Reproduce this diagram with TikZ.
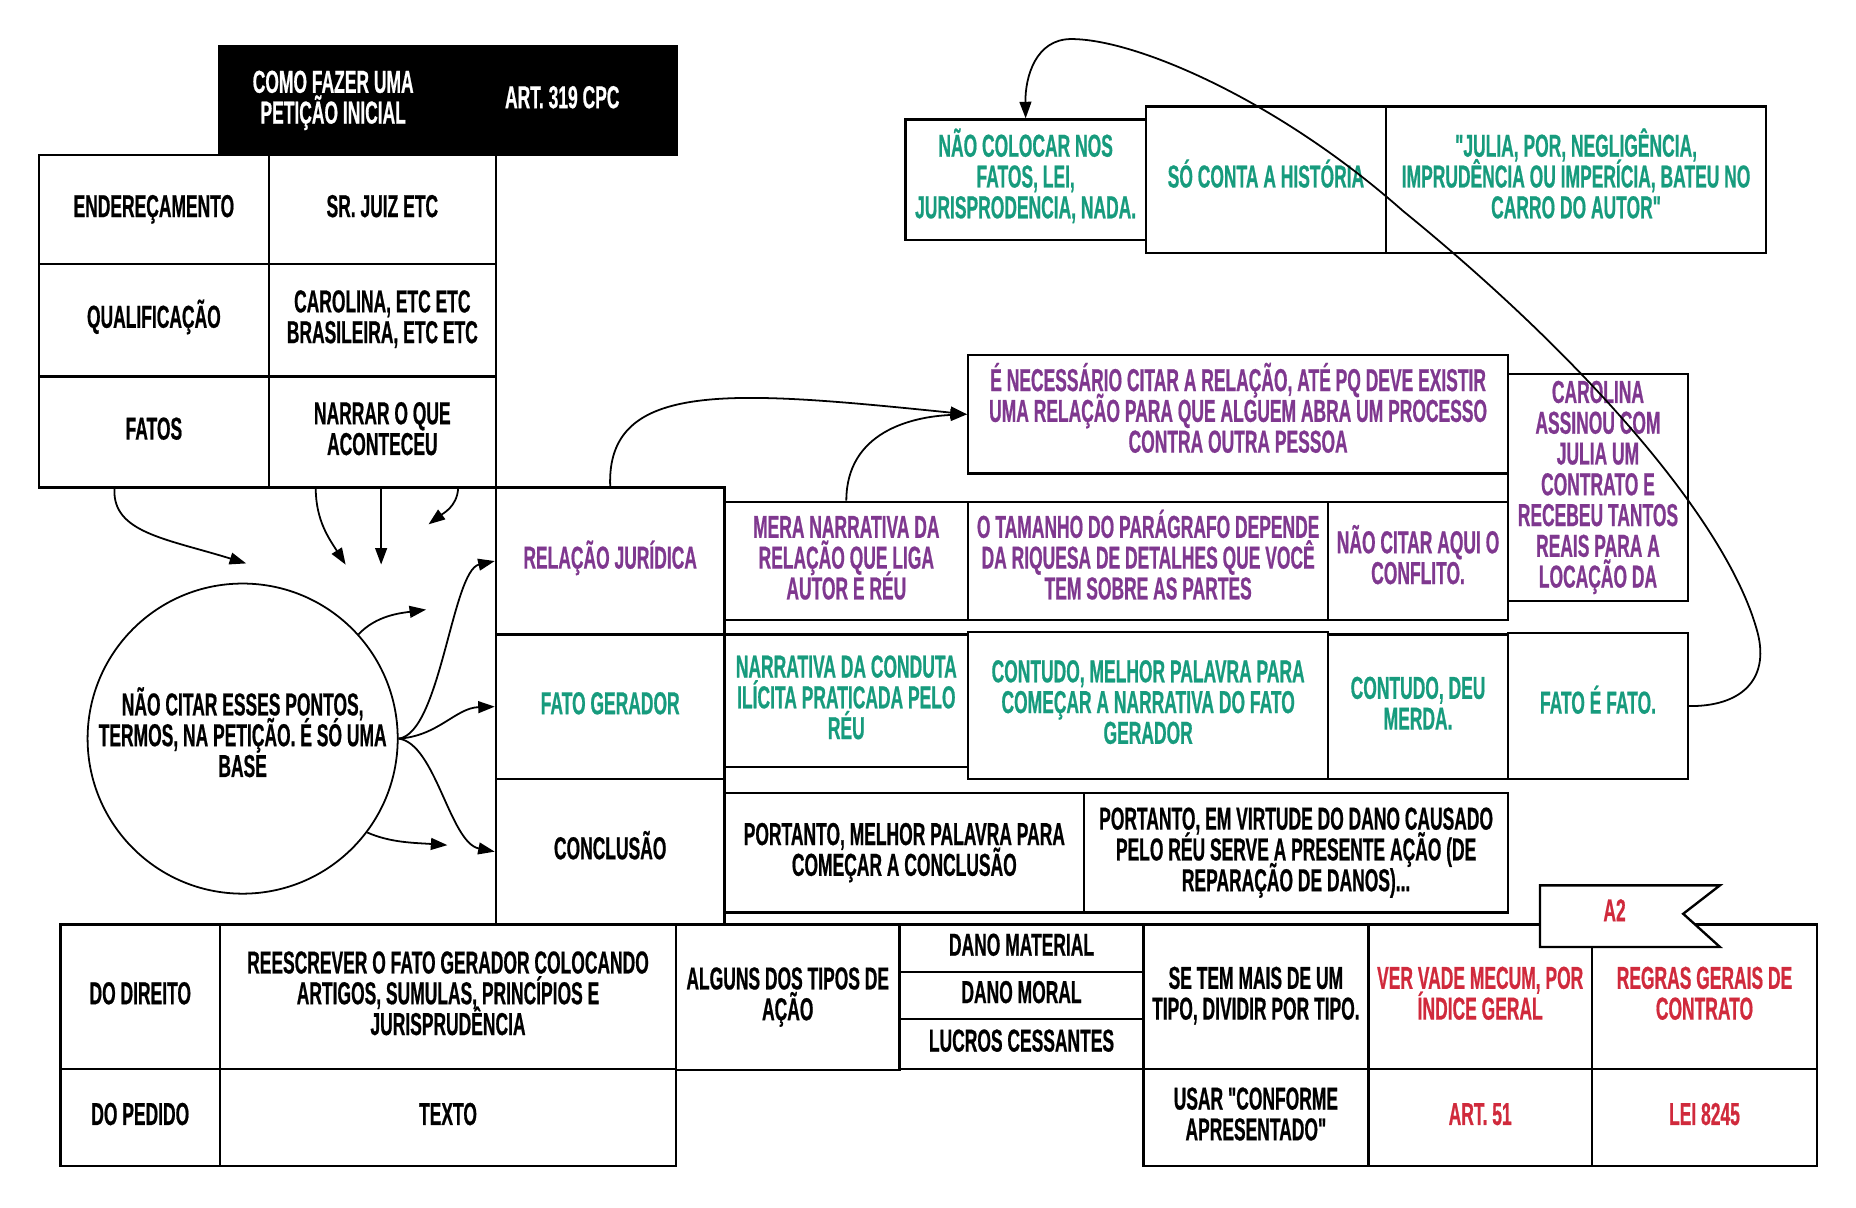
\documentclass[tikz,border=0pt]{standalone}
\usepackage{fontspec}
\newfontfamily\bebas{Liberation Sans}[FakeStretch=0.55,FakeBold=0.6]
\usetikzlibrary{fit,calc,arrows.meta}
\definecolor{purp}{HTML}{7F388F}
\definecolor{tealc}{HTML}{179B7D}
\definecolor{redc}{HTML}{D02A3C}
\setlength{\lineskiplimit}{-100pt}
\setlength{\lineskip}{0pt}
% \mycell[style]{name}{corner}{corner}{number of lines}{text}
\newcommand\mycell[6][]{\pgfmathsetlengthmacro\mytexth{6.4pt+13pt*(#5-1)}%
  \node[cellbox,#1,fit={(#3) (#4)}] (#2) {};
  \node[#1, text height=\mytexth, text depth=0pt, inner sep=0pt] (#2-t) at (#2.center) {#6};}
\begin{document}
\begin{tikzpicture}[x=0.5pt,y=-0.5pt,
  every node/.style={font=\bebas\bfseries\fontsize{13.4}{13}\selectfont, align=center},
  cellbox/.style={draw=black, line width=1pt, inner sep=0pt},
  pu/.style={text=purp}, te/.style={text=tealc}, re/.style={text=redc},
  arr/.style={-{Triangle[length=7pt,width=5pt]}, line width=0.75pt}]
\useasboundingbox (0,0) rectangle (1568,1020);
% header
\mycell[fill=black,text=white]{hd1}{185,39}{378,131}{2}{COMO FAZER UMA\\PETIÇÃO INICIAL}
\mycell[fill=black,text=white]{hd2}{378,39}{572,131}{1}{ART. 319 CPC}
% left table
\mycell{ender}{33,131}{227,223}{1}{ENDEREÇAMENTO}
\mycell{sr}{227,131}{419,223}{1}{SR. JUIZ ETC}
\mycell{qual}{33,223}{227,318}{1}{QUALIFICAÇÃO}
\mycell{carola}{227,223}{419,318}{2}{CAROLINA, ETC ETC\\BRASILEIRA, ETC ETC}
\mycell{fat}{33,318}{227,412}{1}{FATOS}
\mycell{narr}{227,318}{419,412}{2}{NARRAR O QUE\\ACONTECEU}
% middle column
\mycell[pu]{rel}{419,412}{612,536}{1}{RELAÇÃO JURÍDICA}
\mycell[te]{fg}{419,536}{612,658}{1}{FATO GERADOR}
\mycell{conc}{419,658}{612,781}{1}{CONCLUSÃO}
% row 1
\mycell[pu]{nec}{818,300}{1274,400}{3}{É NECESSÁRIO CITAR A RELAÇÃO, ATÉ PQ DEVE EXISTIR\\UMA RELAÇÃO PARA QUE ALGUEM ABRA UM PROCESSO\\CONTRA OUTRA PESSOA}
\mycell[pu]{mera}{612,424}{818,524}{3}{MERA NARRATIVA DA\\RELAÇÃO QUE LIGA\\AUTOR E RÉU}
\mycell[pu]{tam}{818,424}{1122,524}{3}{O TAMANHO DO PARÁGRAFO DEPENDE\\DA RIQUESA DE DETALHES QUE VOCÊ\\TEM SOBRE AS PARTES}
\mycell[pu]{naocit}{1122,424}{1274,524}{2}{NÃO CITAR AQUI O\\CONFLITO.}
\mycell[pu]{carol}{1274,316}{1426,508}{7}{CAROLINA\\ASSINOU COM\\JULIA UM\\CONTRATO E\\RECEBEU TANTOS\\REAIS PARA A\\LOCAÇÃO DA}
% row 2
\mycell[te]{narr2}{612,536}{818,648}{3}{NARRATIVA DA CONDUTA\\ILÍCITA PRATICADA PELO\\RÉU}
\mycell[te]{cont}{818,534}{1122,658}{3}{CONTUDO, MELHOR PALAVRA PARA\\COMEÇAR A NARRATIVA DO FATO\\GERADOR}
\mycell[te]{deu}{1122,536}{1274,658}{2}{CONTUDO, DEU\\MERDA.}
\mycell[te]{fatofato}{1274,535}{1426,658}{1}{FATO É FATO.}
% row 3
\mycell{port1}{612,670}{916,771}{2}{PORTANTO, MELHOR PALAVRA PARA\\COMEÇAR A CONCLUSÃO}
\mycell{port2}{916,670}{1274,771}{3}{PORTANTO, EM VIRTUDE DO DANO CAUSADO\\PELO RÉU SERVE A PRESENTE AÇÃO (DE\\REPARAÇÃO DE DANOS)...}
% top right
\mycell[te]{nao}{765,101}{968,203}{3}{NÃO COLOCAR NOS\\FATOS, LEI,\\JURISPRODENCIA, NADA.}
\mycell[te]{so}{968,90}{1171,214}{1}{SÓ CONTA A HISTÓRIA}
\mycell[te]{julia}{1171,90}{1492,214}{3}{"JULIA, POR, NEGLIGÊNCIA,\\IMPRUDÊNCIA OU IMPERÍCIA, BATEU NO\\CARRO DO AUTOR"}
% bottom table
\mycell{dir}{51,781}{186,903}{1}{DO DIREITO}
\mycell{rees}{186,781}{571,903}{3}{REESCREVER O FATO GERADOR COLOCANDO\\ARTIGOS, SUMULAS, PRINCÍPIOS E\\JURISPRUDÊNCIA}
\mycell{ped}{51,903}{186,985}{1}{DO PEDIDO}
\mycell{texto}{186,903}{571,985}{1}{TEXTO}
\mycell{alg}{571,781}{760,904}{2}{ALGUNS DOS TIPOS DE\\AÇÃO}
\mycell{dm}{760,781}{966,821}{1}{DANO MATERIAL}
\mycell{dmo}{760,821}{966,861}{1}{DANO MORAL}
\mycell{lc}{760,861}{966,903}{1}{LUCROS CESSANTES}
\mycell{se}{966,781}{1156,903}{2}{SE TEM MAIS DE UM\\TIPO, DIVIDIR POR TIPO.}
\mycell[re]{ver}{1156,781}{1345,903}{2}{VER VADE MECUM, POR\\ÍNDICE GERAL}
\mycell[re]{reg}{1345,781}{1535,903}{2}{REGRAS GERAIS DE\\CONTRATO}
\mycell{usar}{966,903}{1156,985}{2}{USAR "CONFORME\\APRESENTADO"}
\mycell[re]{art}{1156,903}{1345,985}{1}{ART. 51}
\mycell[re]{lei}{1345,903}{1535,985}{1}{LEI 8245}
% flag
\draw[fill=white, line width=1pt] (1301,748) -- (1453,748) -- (1422,772) -- (1453,800) -- (1301,800) -- cycle;
\node[re, text height=6.4pt, text depth=0pt, inner sep=0pt] (a2) at (1364,772) {A2};
% circle
\node[draw, circle, line width=0.75pt, minimum size=131pt, inner sep=0pt] (circ) at (205,624) {};
\node[text height=32.4pt, text depth=0pt, inner sep=0pt] (circtext) at (circ.center) {NÃO CITAR ESSES PONTOS,\\TERMOS, NA PETIÇÃO. É SÓ UMA\\BASE};
% free arrow ends
\coordinate (e1) at (208,476);
\coordinate (e2) at (292,477);
\coordinate (e3) at (322,477);
\coordinate (e4) at (362,443);
\coordinate (e5) at (360,515);
\coordinate (e9) at (378,714);
% arrows from the table
\draw[arr] ($(fat.south west)!0.33!(fat.south east)$) .. controls (95,450) and (140,455) .. (e1);
\draw[arr] ($(narr.south west)!0.21!(narr.south east)$) .. controls (267,440) and (278,455) .. (e2);
\draw[arr] (narr.south -| e3) -- (e3);
\draw[arr] ($(narr.south west)!0.83!(narr.south east)$) .. controls (386,428) and (374,434) .. (e4);
% arrows from the circle
\draw[arr] (circ.42) .. controls (318,520) and (338,518) .. (e5);
\draw[arr] (circ.-37) .. controls (330,712) and (350,712) .. (e9);
\draw[arr] (circ.east) .. controls (372,620) and (382,482) .. (rel.west);
\draw[arr] (circ.east) .. controls (370,622) and (385,598) .. (fg.west);
\draw[arr] (circ.east) .. controls (368,628) and (380,712) .. (conc.west);
% arrows to nec
\draw[arr] (rel.north) .. controls (512,320) and (620,330) .. (nec.west);
\draw[arr] (mera.north) .. controls (715,365) and (770,352) .. (nec.west);
% long arrow
\draw[arr] (fatofato.east) .. controls (1470,597) and (1495,575) .. (1485,535)
  .. controls (1460,440) and (1335,300) .. (1185,178)
  .. controls (1080,85) and (960,33) .. (905,33)
  .. controls (875,33) and (866,65) .. (nao.north);
\end{tikzpicture}
\end{document}
